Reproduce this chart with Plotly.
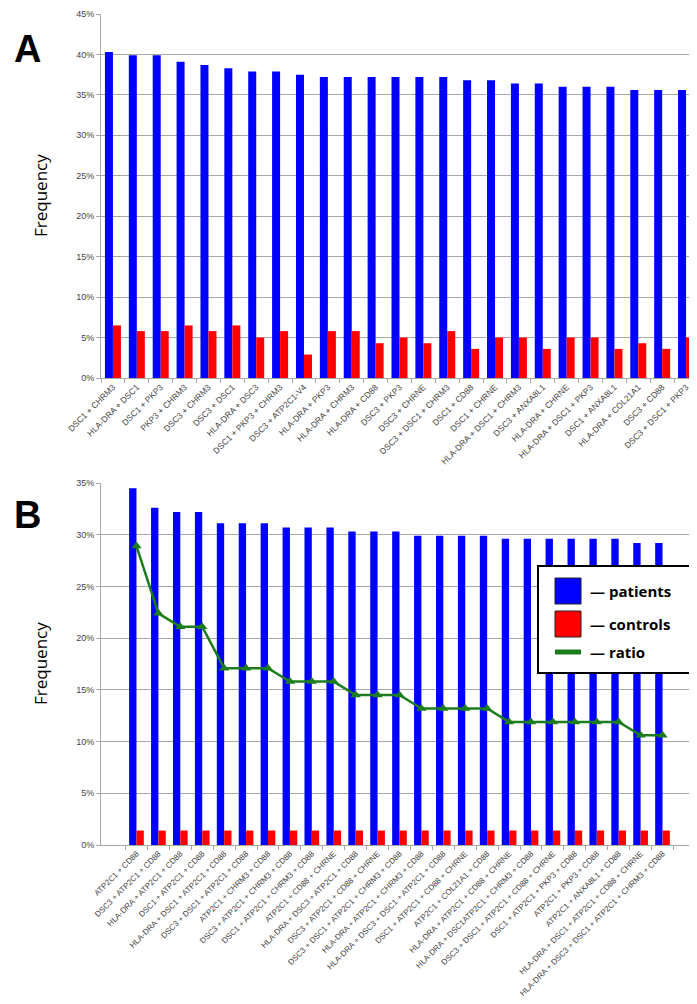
import plotly.graph_objects as go
from plotly.subplots import make_subplots

# ---------------- data ----------------
cats_a = [
    "DSC1 + CHRM3", "HLA-DRA + DSC1", "DSC1 + PKP3", "PKP3 + CHRM3", "DSC3 + CHRM3",
    "DSC3 + DSC1", "HLA-DRA + DSC3", "DSC1 + PKP3 + CHRM3", "DSC3 + ATP2C1-V4",
    "HLA-DRA + PKP3", "HLA-DRA + CHRM3", "HLA-DRA + CD88", "DSC3 + PKP3", "DSC3 + CHRNE",
    "DSC3 + DSC1 + CHRM3", "DSC1 + CD88", "DSC1 + CHRNE", "HLA-DRA + DSC1 + CHRM3",
    "DSC3 + ANXA8L1", "HLA-DRA + CHRNE", "HLA-DRA + DSC1 + PKP3", "DSC1 + ANXA8L1",
    "HLA-DRA + COL21A1", "DSC3 + CD88", "DSC3 + DSC1 + PKP3",
]
patients_a = [40.3, 39.9, 39.9, 39.1, 38.7, 38.3, 37.9, 37.9, 37.5, 37.2, 37.2, 37.2, 37.2,
              37.2, 37.2, 36.8, 36.8, 36.4, 36.4, 36.0, 36.0, 36.0, 35.6, 35.6, 35.6]
controls_a = [6.5, 5.8, 5.8, 6.5, 5.8, 6.5, 5.0, 5.8, 2.9, 5.8, 5.8, 4.3, 5.0,
              4.3, 5.8, 3.6, 5.0, 5.0, 3.6, 5.0, 5.0, 3.6, 4.3, 3.6, 5.0]

cats_b = [
    "ATP2C1 + CD88", "DSC3 + ATP2C1 + CD88", "HLA-DRA + ATP2C1 + CD88", "DSC1 + ATP2C1 + CD88",
    "HLA-DRA + DSC1 + ATP2C1 + CD88", "DSC3 + DSC1 + ATP2C1 + CD88", "ATP2C1 + CHRM3 + CD88",
    "DSC3 + ATP2C1 + CHRM3 + CD88", "DSC1 + ATP2C1 + CHRM3 + CD88", "ATP2C1 + CD88 + CHRNE",
    "HLA-DRA + DSC3 + ATP2C1 + CD88", "DSC3 + ATP2C1 + CD88 + CHRNE",
    "DSC3 + DSC1 + ATP2C1 + CHRM3 + CD88", "HLA-DRA + ATP2C1 + CHRM3 + CD88",
    "HLA-DRA + DSC3 + DSC1 + ATP2C1 + CD88", "DSC1 + ATP2C1 + CD88 + CHRNE",
    "ATP2C1 + COL21A1 + CD88", "HLA-DRA + ATP2C1 + CD88 + CHRNE",
    "HLA-DRA + DSC1ATP2C1 + CHRM3 + CD88", "DSC3 + DSC1 + ATP2C1 + CD88 + CHRNE",
    "DSC1 + ATP2C1 + PKP3 + CD88", "ATP2C1 + PKP3 + CD88", "ATP2C1 + ANXA8L1 + CD88",
    "HLA-DRA + DSC1 + ATP2C1 + CD88 + CHRNE", "HLA-DRA + DSC3 + DSC1 + ATP2C1 + CHRM3 + CD88",
]
patients_b = [34.5, 32.6, 32.2, 32.2, 31.1, 31.1, 31.1, 30.7, 30.7, 30.7, 30.3, 30.3, 30.3,
              29.9, 29.9, 29.9, 29.9, 29.6, 29.6, 29.6, 29.6, 29.6, 29.6, 29.2, 29.2]
controls_b = [1.4] * 25
ratio_b = [28.9, 22.4, 21.1, 21.1, 17.1, 17.1, 17.1, 15.8, 15.8, 15.8, 14.5, 14.5, 14.5,
           13.2, 13.2, 13.2, 13.2, 11.9, 11.9, 11.9, 11.9, 11.9, 11.9, 10.6, 10.6]

yticks_a = list(range(0, 50, 5))
yticks_b = list(range(0, 40, 5))
ylabels_a = [f"{v}%" for v in yticks_a]
ylabels_b = [f"{v}%" for v in yticks_b]

# ---------------- geometry ----------------
W, H = 697, 1004
L, R = 93, 690
T_PIX, B_PIX = 6, 837
PH = B_PIX - T_PIX


def xp(px):
    return (px - L) / (R - L)


def yp(py):
    return (B_PIX - py) / PH


BLUE = "#0000FF"
RED = "#FF0000"
GREEN = "#1d7d1d"
GRID = "#a8a8a8"
TICKC = "#444444"
FONT = "Liberation Sans"

fig = make_subplots(rows=2, cols=1)

fig.add_trace(go.Bar(x=cats_a, y=patients_a, marker=dict(color=BLUE, line=dict(width=0)),
                     name="patients", showlegend=False), row=1, col=1)
fig.add_trace(go.Bar(x=cats_a, y=controls_a, marker=dict(color=RED, line=dict(width=0)),
                     name="controls", showlegend=False), row=1, col=1)
fig.add_trace(go.Bar(x=cats_b, y=patients_b, marker=dict(color=BLUE, line=dict(width=0)),
                     name="patients", showlegend=False), row=2, col=1)
fig.add_trace(go.Bar(x=cats_b, y=controls_b, marker=dict(color=RED, line=dict(width=0)),
                     name="controls", showlegend=False), row=2, col=1)
fig.add_trace(go.Scatter(x=cats_b, y=ratio_b, mode="lines+markers", name="ratio",
                         line=dict(color=GREEN, width=2.5),
                         marker=dict(symbol="triangle-up", size=9, color=GREEN),
                         showlegend=False), row=2, col=1)

xaxis_common = dict(showline=True, linecolor=GRID, linewidth=1, ticks="outside",
                    tickson="boundaries", ticklen=4, tickcolor=GRID, tickangle=-45,
                    showgrid=False, automargin=False)
yaxis_common = dict(showline=True, linecolor=GRID, linewidth=1, ticks="outside",
                    ticklen=4, tickcolor=GRID, showgrid=True, gridcolor=GRID, gridwidth=1,
                    tickfont=dict(family=FONT, size=9, color=TICKC),
                    zeroline=False, automargin=False)

fig.update_layout(
    width=W, height=H,
    margin=dict(l=L, r=W - R, t=T_PIX, b=H - B_PIX),
    paper_bgcolor="white", plot_bgcolor="white",
    barmode="group", bargap=0.33, bargroupgap=0.0,
    xaxis=dict(domain=[0, 1], tickfont=dict(family=FONT, size=8.5, color=TICKC), **xaxis_common),
    xaxis2=dict(domain=[0, 1], tickfont=dict(family=FONT, size=8, color=TICKC), **xaxis_common),
    yaxis=dict(domain=[yp(370), 1.0], range=[0, 45], tickvals=yticks_a, ticktext=ylabels_a,
               **yaxis_common),
    yaxis2=dict(domain=[0, yp(475)], range=[0, 35], tickvals=yticks_b, ticktext=ylabels_b,
                **yaxis_common),
    font=dict(family=FONT),
)

ann = []
# panel letters
for letter, py in [("A", 41), ("B", 507)]:
    ann.append(dict(text=f"<b>{letter}</b>", x=xp(19), y=yp(py), xref="paper", yref="paper",
                    xanchor="center", yanchor="middle", showarrow=False,
                    font=dict(family="Liberation Sans", size=38, color="black")))
# y titles
for py in [188, 656]:
    ann.append(dict(text="Frequency", x=xp(32), y=yp(py), xref="paper", yref="paper",
                    xanchor="center", yanchor="middle", textangle=-90, showarrow=False,
                    font=dict(family="Open Sans", size=17, color="black")))

shapes = []
# manual legend box
shapes.append(dict(type="rect", xref="paper", yref="paper", x0=xp(530), x1=xp(688),
                   y0=yp(665), y1=yp(558), line=dict(color="black", width=2),
                   fillcolor="white", layer="above"))
shapes.append(dict(type="rect", xref="paper", yref="paper", x0=xp(547), x1=xp(573),
                   y0=yp(596), y1=yp(570), line=dict(color="#222222", width=1),
                   fillcolor=BLUE, layer="above"))
shapes.append(dict(type="rect", xref="paper", yref="paper", x0=xp(547), x1=xp(573),
                   y0=yp(629), y1=yp(603), line=dict(color="#222222", width=1),
                   fillcolor=RED, layer="above"))
shapes.append(dict(type="line", xref="paper", yref="paper", x0=xp(547), x1=xp(573),
                   y0=yp(644), y1=yp(644), line=dict(color=GREEN, width=5), layer="above"))
leg_font = dict(family="Open Sans", size=15, color="black")
for label, py in [("— patients", 583), ("— controls", 616), ("— ratio", 644)]:
    ann.append(dict(text=f"<b>{label}</b>", x=xp(580), y=yp(py), xref="paper", yref="paper",
                    xanchor="left", yanchor="middle", showarrow=False, font=leg_font))

fig.update_layout(annotations=ann, shapes=shapes)

fig.write_html("out.html")
